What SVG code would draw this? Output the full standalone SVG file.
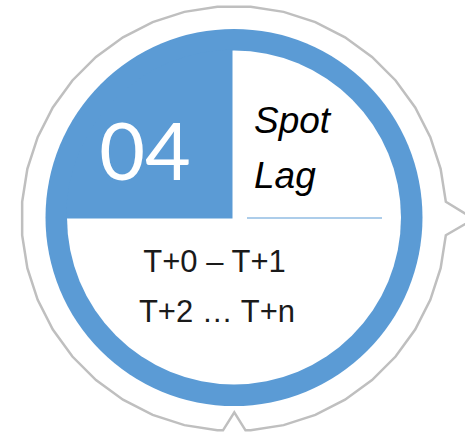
<svg xmlns="http://www.w3.org/2000/svg" width="465" height="436" viewBox="0 0 465 436">
  <style>
    .outline { fill: #FFFFFF; stroke: #BFBFBF; stroke-width: 2.5; stroke-linejoin: miter; }
    .blue { fill: #5B9BD5; }
    .white { fill: #FFFFFF; }
    .num { font-family: "Lato", "Open Sans", "Liberation Sans", sans-serif; font-weight: 400; fill: #FFFFFF; }
    .title { font-family: "Liberation Sans", "DejaVu Sans", sans-serif; font-style: italic; fill: #000000; }
    .body { font-family: "Liberation Sans", "DejaVu Sans", sans-serif; fill: #1A1A1A; }
  </style>
  <rect width="465" height="436" fill="#FFFFFF"/>
  <g id="outline">
    <path class="outline" d="M445.85,235.17 L440.63,268.11 L430.32,299.82 L415.19,329.53 L395.59,356.51 L372.01,380.09 L345.03,399.69 L315.32,414.82 L283.61,425.13 L250.67,430.35 L245.5,430.35 L234.3,412.3 L223,430.35 L217.33,430.35 L184.39,425.13 L152.68,414.82 L122.97,399.69 L95.99,380.09 L72.41,356.51 L52.81,329.53 L37.68,299.82 L27.37,268.11 L22.15,235.17 L22.15,201.83 L27.37,168.89 L37.68,137.18 L52.81,107.47 L72.41,80.49 L95.99,56.91 L122.97,37.31 L152.68,22.18 L184.39,11.87 L217.33,6.65 L250.67,6.65 L283.61,11.87 L315.32,22.18 L345.03,37.31 L372.01,56.91 L395.59,80.49 L415.19,107.47 L430.32,137.18 L440.63,168.89 L445.85,201.83 L474,219 Z"/>
  </g>
  <g id="ring">
    <circle class="blue" cx="234" cy="217.5" r="188.5"/>
    <circle class="white" cx="234" cy="217.5" r="167"/>
  </g>
  <g id="number-node">
    <path class="blue" d="M232.5,218.5 H66 A168,168 0 0 1 232.5,49.5 Z"/>
    <text class="num" x="145" y="180" font-size="79" text-anchor="middle">04</text>
  </g>
  <g id="title-node">
    <text class="title" x="254" y="133" font-size="37">Spot</text>
    <text class="title" x="254" y="188" font-size="37">Lag</text>
    <line x1="247" y1="218" x2="382" y2="218" stroke="#5B9BD5" stroke-width="1"/>
  </g>
  <g id="body-node">
    <text class="body" x="214.5" y="272" font-size="31" text-anchor="middle">T+0 – T+1</text>
    <text class="body" x="217" y="322" font-size="31" text-anchor="middle">T+2 … T+n</text>
  </g>
  <g id="connectors"></g>
</svg>
